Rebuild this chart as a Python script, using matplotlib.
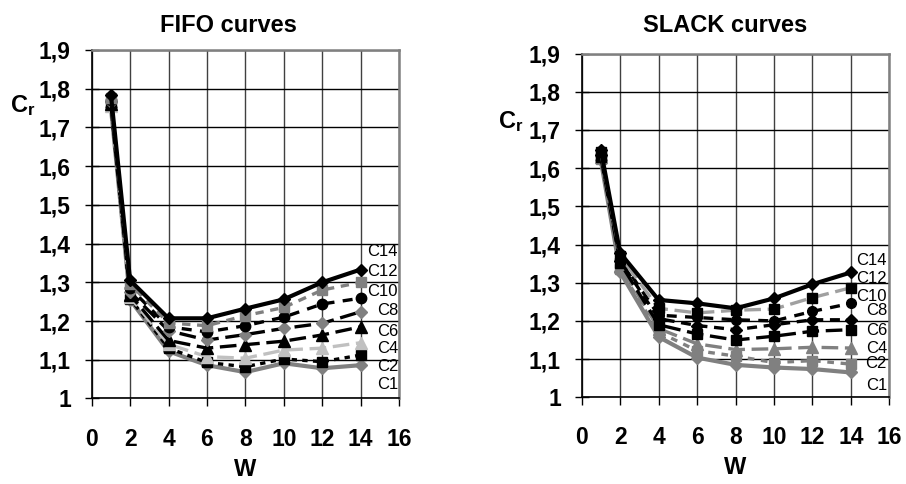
import matplotlib
matplotlib.use("Agg")
import matplotlib.pyplot as plt
from matplotlib.ticker import FuncFormatter, MultipleLocator

plt.rcParams['font.family'] = ['Liberation Sans', 'DejaVu Sans']
plt.rcParams['mathtext.fontset'] = 'custom'
plt.rcParams['mathtext.rm'] = 'Liberation Sans'
plt.rcParams['mathtext.bf'] = 'Liberation Sans:bold'

# ---------------- data ----------------
W = [1, 2, 4, 6, 8, 10, 12, 14]
series_names = ["C1", "C2", "C4", "C6", "C8", "C10", "C12", "C14"]

fifo_C1 = [1.752, 1.255, 1.122, 1.086, 1.068, 1.091, 1.078, 1.086]
fifo_C2 = [1.758, 1.258, 1.130, 1.093, 1.082, 1.102, 1.095, 1.112]
fifo_C4 = [1.755, 1.262, 1.140, 1.108, 1.104, 1.125, 1.130, 1.144]
fifo_C6 = [1.760, 1.268, 1.150, 1.130, 1.139, 1.148, 1.164, 1.185]
fifo_C8 = [1.765, 1.275, 1.175, 1.151, 1.165, 1.181, 1.194, 1.224]
fifo_C10 = [1.770, 1.285, 1.185, 1.172, 1.188, 1.210, 1.244, 1.259]
fifo_C12 = [1.775, 1.295, 1.195, 1.188, 1.214, 1.235, 1.280, 1.300]
fifo_C14 = [1.785, 1.305, 1.207, 1.207, 1.232, 1.256, 1.300, 1.333]

slack_C1 = [1.620, 1.328, 1.158, 1.104, 1.085, 1.078, 1.074, 1.065]
slack_C2 = [1.625, 1.335, 1.171, 1.122, 1.108, 1.091, 1.096, 1.087]
slack_C4 = [1.628, 1.345, 1.180, 1.140, 1.125, 1.127, 1.131, 1.129]
slack_C6 = [1.630, 1.352, 1.190, 1.166, 1.150, 1.160, 1.173, 1.177]
slack_C8 = [1.635, 1.358, 1.206, 1.188, 1.177, 1.190, 1.203, 1.203]
slack_C10 = [1.638, 1.363, 1.215, 1.209, 1.203, 1.200, 1.225, 1.246]
slack_C12 = [1.642, 1.370, 1.233, 1.221, 1.228, 1.231, 1.261, 1.287]
slack_C14 = [1.647, 1.378, 1.255, 1.246, 1.233, 1.259, 1.296, 1.327]

fifo = [fifo_C1, fifo_C2, fifo_C4, fifo_C6, fifo_C8, fifo_C10, fifo_C12, fifo_C14]
slack = [slack_C1, slack_C2, slack_C4, slack_C6, slack_C8, slack_C10, slack_C12, slack_C14]

# ---------------- layout / style ----------------
GREY = '#808080'
LGREY = '#C0C0C0'
MGREY = '#A0A0A0'

# (line colour, linestyle, lw, marker, marker colour, marker size)
fifo_styles = [
    (GREY, '-', 3.0, 'D', GREY, 6.5),
    ('black', (0, (1.6, 1.6)), 2.4, 's', 'black', 7),
    (LGREY, (0, (5, 2)), 2.4, '^', LGREY, 8.5),
    ('black', (0, (5, 2)), 2.4, '^', 'black', 8.5),
    ('black', (0, (5, 2)), 2.4, 'D', GREY, 6.5),
    ('black', (0, (3, 2.5)), 2.4, 'o', 'black', 7.5),
    (GREY, (0, (2.5, 2)), 2.4, 's', GREY, 7),
    ('black', '-', 3.0, 'D', 'black', 6.5),
]
slack_styles = [
    (GREY, '-', 3.0, 'D', GREY, 6.5),
    (GREY, (0, (2, 2)), 2.4, 's', GREY, 6.5),
    (GREY, (0, (5, 2)), 2.4, '^', GREY, 8.5),
    ('black', (0, (5, 2)), 2.4, 's', 'black', 7),
    ('black', (0, (3, 2)), 2.4, 'D', 'black', 6),
    ('black', (0, (3, 2.5)), 2.4, 'o', 'black', 7),
    (MGREY, (0, (5, 2)), 2.4, 's', 'black', 7),
    ('black', '-', 3.0, 'D', 'black', 6),
]

fifo_label_y = [1.035, 1.082, 1.130, 1.174, 1.226, 1.275, 1.327, 1.379]
slack_label_y = [1.032, 1.089, 1.128, 1.176, 1.228, 1.263, 1.311, 1.359]

fig = plt.figure(figsize=(9.06, 4.84), dpi=100)
ax1 = fig.add_axes([0.1012, 0.1767, 0.3392, 0.7200])
ax2 = fig.add_axes([0.6420, 0.1791, 0.3397, 0.7103])


def fmt(v, pos):
    s = ('%.1f' % v)
    if s.endswith('.0'):
        s = s[:-2]
    return s.replace('.', ',')


def setup(ax, data, styles, label_y, title, title_x, title_pad, label_x):
    ax.set_xlim(0, 16)
    ax.set_ylim(1, 1.9)
    ax.xaxis.set_major_locator(MultipleLocator(2))
    ax.yaxis.set_major_locator(MultipleLocator(0.1))
    ax.yaxis.set_major_formatter(FuncFormatter(fmt))
    ax.grid(True, axis='y', color='black', lw=1.0)
    ax.grid(True, axis='x', color='#404040', lw=1.0)
    ax.set_axisbelow(True)
    for sp in ['left', 'bottom']:
        ax.spines[sp].set_color('black')
        ax.spines[sp].set_linewidth(1.2)
    for sp in ['top', 'right']:
        ax.spines[sp].set_color(GREY)
        ax.spines[sp].set_linewidth(1.8)
    ax.tick_params(axis='y', direction='inout', length=10, width=1, pad=10,
                   labelsize=16.5)
    ax.tick_params(axis='x', direction='out', length=6, width=1, pad=15,
                   labelsize=16.5)
    for lab in ax.get_xticklabels() + ax.get_yticklabels():
        lab.set_fontweight('bold')
    for vals, (lc, ls, lw, mk, mc, ms) in zip(data, styles):
        ax.plot(W, vals, color=lc, linestyle=ls, lw=lw, marker=mk,
                markerfacecolor=mc, markeredgecolor=mc, markersize=ms,
                clip_on=False)
    for name, y in zip(series_names, label_y):
        ax.text(label_x, y, name, ha='right', va='center', fontsize=12)
    ax.set_title(title, fontsize=17, fontweight='bold', x=title_x, pad=title_pad)
    ax.set_xlabel('W', fontsize=17, fontweight='bold', labelpad=5)


setup(ax1, fifo, fifo_styles, fifo_label_y, 'FIFO curves', 0.4435, 13, 15.95)
setup(ax2, slack, slack_styles, slack_label_y, 'SLACK curves', 0.4656, 15.5, 15.87)

fig.text(0.011, 0.7686, r'$\mathbf{C_r}$', fontsize=17, ha='left', va='baseline')
fig.text(0.5497, 0.735, r'$\mathbf{C_r}$', fontsize=17, ha='left', va='baseline')

fig.savefig('out.png', dpi=100)
